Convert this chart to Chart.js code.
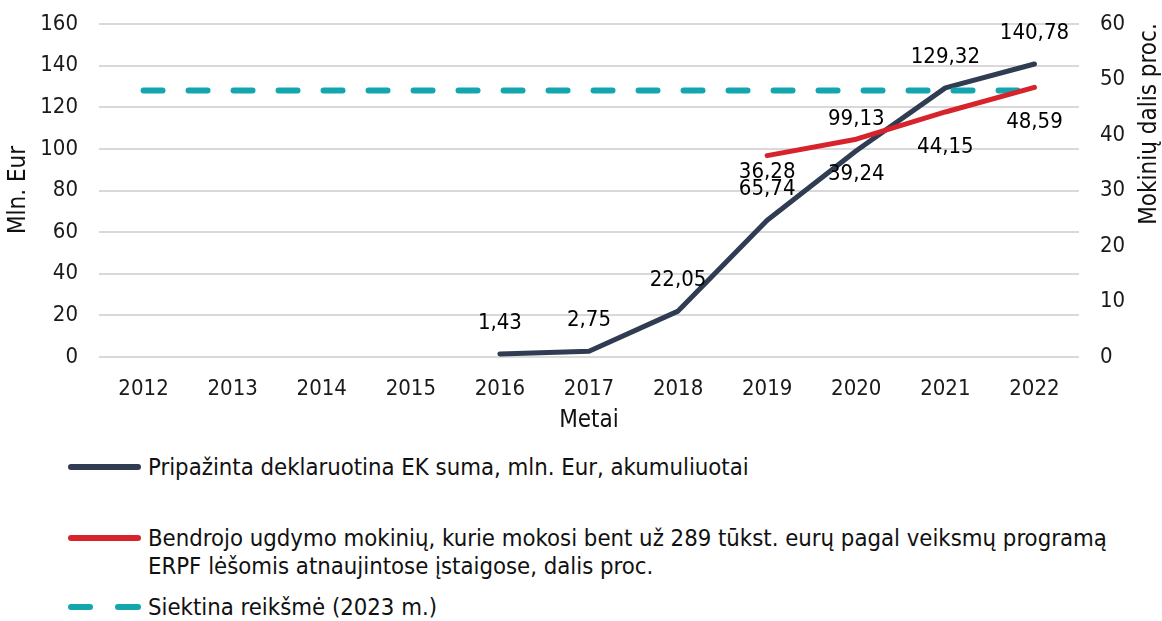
<!DOCTYPE html>
<html>
<head>
<meta charset="utf-8">
<script src="https://cdn.jsdelivr.net/npm/chart.js@4.4.0/dist/chart.umd.min.js"></script>
<style>
  html, body { margin: 0; padding: 0; background: #fff; }
  #wrap { position: relative; width: 1162px; height: 621px; overflow: hidden; }
  #c { position: absolute; left: 0; top: 0; }
  .leg { position: absolute; left: 0; font-family: "DejaVu Sans Condensed", "DejaVu Sans", sans-serif; font-size: 23.7px; color: #111; line-height: 28px; }
  .leg .txt { position: absolute; left: 148px; white-space: nowrap; }
  .leg .sw { position: absolute; height: 6px; border-radius: 3px; }
</style>
</head>
<body>
<div id="wrap">
  <canvas id="c" width="1162" height="440"></canvas>
  <div id="legend"></div>
</div>
<script>
const years = ['2012','2013','2014','2015','2016','2017','2018','2019','2020','2021','2022'];
const declaredSum = [null, null, null, null, 1.43, 2.75, 22.05, 65.74, 99.13, 129.32, 140.78];
const pupilShare = [null, null, null, null, null, null, null, 36.28, 39.24, 44.15, 48.59];
const targetValue = [48, 48, 48, 48, 48, 48, 48, 48, 48, 48, 48];
const leftTicks = [0, 20, 40, 60, 80, 100, 120, 140, 160];
const rightTicks = [0, 10, 20, 30, 40, 50, 60];

const seriesNames = [
  'Pripažinta deklaruotina EK suma, mln. Eur, akumuliuotai',
  'Bendrojo ugdymo mokinių, kurie mokosi bent už 289 tūkst. eurų pagal veiksmų programą<br>ERPF lėšomis atnaujintose įstaigose, dalis proc.',
  'Siektina reikšmė (2023 m.)'
];
const leftTitle = 'Mln. Eur';
const rightTitle = 'Mokinių dalis proc.';
const xTitle = 'Metai';

const C_DARK = '#2f3c52';
const C_RED = '#d7242c';
const C_TEAL = '#14a6ae';
const FONT = '"DejaVu Sans Condensed", "DejaVu Sans", sans-serif';

function fmt(v) { return v.toFixed(2).replace('.', ','); }

const labelPlugin = {
  id: 'labels',
  afterDatasetsDraw(chart) {
    const ctx = chart.ctx;
    ctx.save();
    ctx.font = '22px ' + FONT;
    ctx.fillStyle = '#000';
    ctx.textAlign = 'center';
    ctx.textBaseline = 'middle';
    const m0 = chart.getDatasetMeta(0);
    declaredSum.forEach((v, i) => {
      if (v === null) return;
      const p = m0.data[i];
      ctx.fillText(fmt(v), p.x, p.y - 31);
    });
    const m1 = chart.getDatasetMeta(1);
    pupilShare.forEach((v, i) => {
      if (v === null) return;
      const p = m1.data[i];
      const off = (i === 7) ? 17 : 35;
      ctx.fillText(fmt(v), p.x, p.y + off);
    });
    ctx.restore();
  }
};

const titlePlugin = {
  id: 'titles',
  afterDraw(chart) {
    const ctx = chart.ctx;
    const ca = chart.chartArea;
    ctx.save();
    ctx.font = '24px ' + FONT;
    ctx.fillStyle = '#111';
    ctx.textAlign = 'center';
    ctx.textBaseline = 'middle';
    ctx.fillText(xTitle, (ca.left + ca.right) / 2, 421);
    ctx.save();
    ctx.translate(19, 190);
    ctx.rotate(-Math.PI / 2);
    ctx.fillText(leftTitle, 0, 0);
    ctx.restore();
    ctx.save();
    ctx.translate(1150, 124);
    ctx.rotate(-Math.PI / 2);
    ctx.fillText(rightTitle, 0, 0);
    ctx.restore();
    ctx.restore();
  }
};

new Chart(document.getElementById('c'), {
  type: 'line',
  data: {
    labels: years,
    datasets: [
      { label: seriesNames[0], data: declaredSum, yAxisID: 'y', borderColor: C_DARK, backgroundColor: C_DARK, borderWidth: 5, pointRadius: 0, tension: 0, order: 2, borderCapStyle: 'round', borderJoinStyle: 'round' },
      { label: seriesNames[1], data: pupilShare, yAxisID: 'y1', borderColor: C_RED, backgroundColor: C_RED, borderWidth: 5, pointRadius: 0, tension: 0, order: 0, borderCapStyle: 'round', borderJoinStyle: 'round' },
      { label: seriesNames[2], data: targetValue, yAxisID: 'y1', borderColor: C_TEAL, backgroundColor: C_TEAL, borderWidth: 6, pointRadius: 0, tension: 0, order: 1, borderDash: [19, 26], borderCapStyle: 'round' }
    ]
  },
  options: {
    responsive: false,
    animation: false,
    devicePixelRatio: 1,
    layout: { padding: { top: 0, left: 0, right: 0, bottom: 0 } },
    plugins: { legend: { display: false }, tooltip: { enabled: false } },
    scales: {
      x: {
        offset: true,
        grid: { display: false },
        border: { display: false },
        ticks: { font: { family: FONT, size: 22 }, color: '#1a1a1a', padding: 11, maxRotation: 0 },
        afterFit(s) { s.height = 83; }
      },
      y: {
        position: 'left',
        min: 0, max: 160,
        afterBuildTicks(s) { s.ticks = leftTicks.map(v => ({ value: v })); },
        grid: { color: '#d9d9d9', lineWidth: 2, drawTicks: false },
        border: { display: false },
        ticks: { font: { family: FONT, size: 22 }, color: '#1a1a1a', padding: 21 },
        afterFit(s) { s.width = 99; s.paddingTop = 24; }
      },
      y1: {
        position: 'right',
        min: 0, max: 60,
        afterBuildTicks(s) { s.ticks = rightTicks.map(v => ({ value: v })); },
        grid: { display: false, drawTicks: false },
        border: { display: false },
        ticks: { font: { family: FONT, size: 22 }, color: '#1a1a1a', padding: 21 },
        afterFit(s) { s.width = 83; s.paddingTop = 24; }
      }
    }
  },
  plugins: [labelPlugin, titlePlugin]
});

// HTML legend built from series names
const legend = document.getElementById('legend');
const legendRows = [
  { color: C_DARK, dashed: false, top: 453 },
  { color: C_RED, dashed: false, top: 524 },
  { color: C_TEAL, dashed: true, top: 593 }
];
legendRows.forEach((r, i) => {
  const d = document.createElement('div');
  d.className = 'leg';
  d.style.top = r.top + 'px';
  let sw = '';
  if (r.dashed) {
    sw = `<div class="sw" style="left:68px;width:25px;top:11px;background:${r.color}"></div>` +
         `<div class="sw" style="left:115px;width:26px;top:11px;background:${r.color}"></div>`;
  } else {
    sw = `<div class="sw" style="left:68px;width:73px;top:11px;background:${r.color}"></div>`;
  }
  d.innerHTML = sw + `<div class="txt">${seriesNames[i]}</div>`;
  legend.appendChild(d);
});
</script>
</body>
</html>
